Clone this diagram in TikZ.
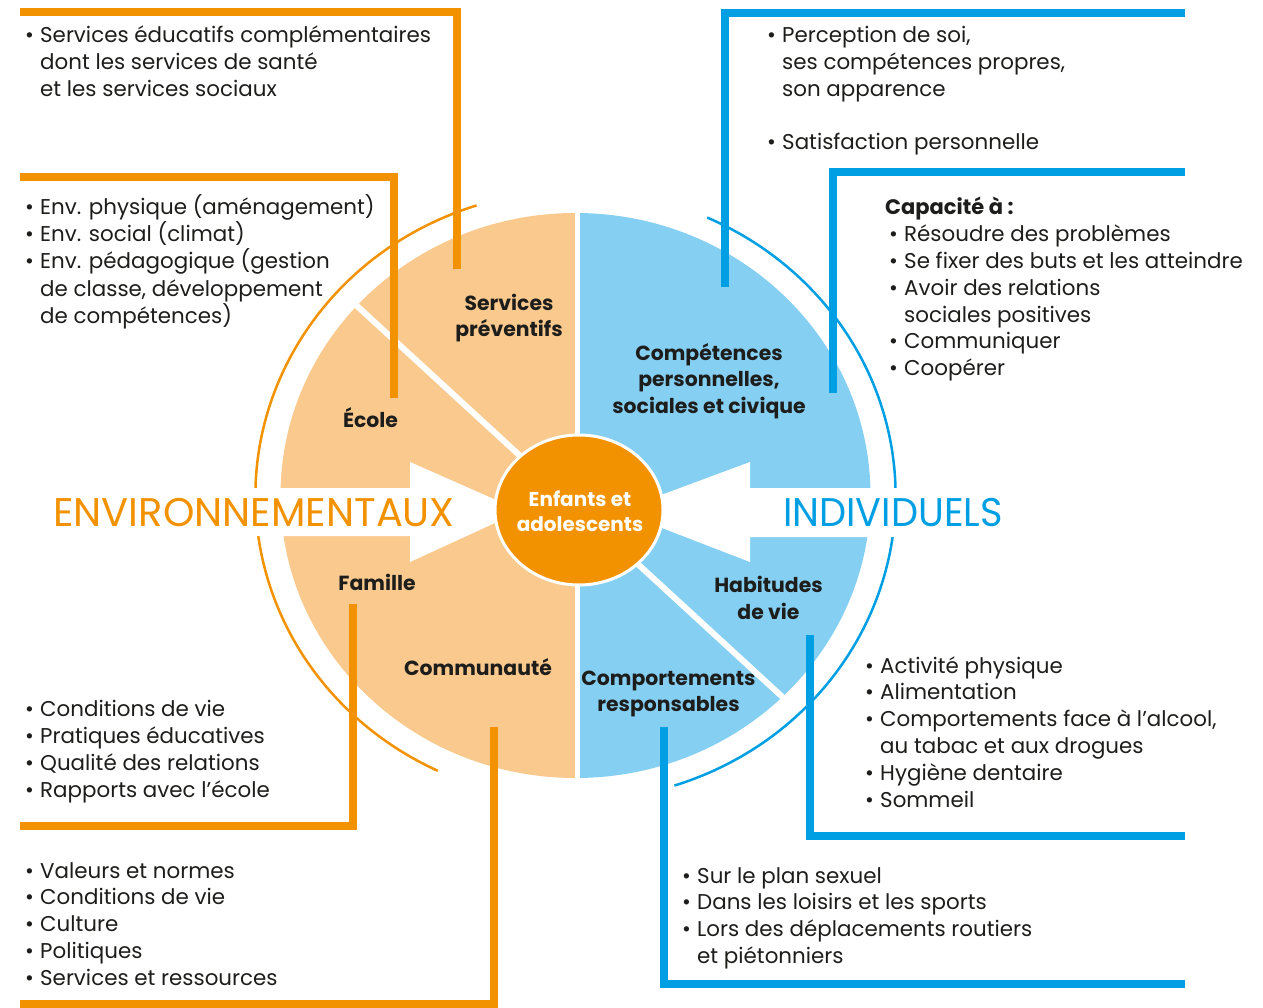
\documentclass[tikz,border=0pt]{standalone}
\usepackage{fontspec}
\setmainfont{Poppins}
\usepackage{graphicx}
\usetikzlibrary{calc}
\definecolor{orng}{HTML}{F39200}
\definecolor{lorng}{HTML}{FAC98E}
\definecolor{blu}{HTML}{009FE3}
\definecolor{lblu}{HTML}{85CFF3}
\definecolor{txt}{HTML}{1D1D1B}
\newcommand{\bul}{\makebox[15pt][l]{\textbullet}}
\newcommand{\nb}{\hspace*{15pt}}
\begin{document}
\begin{tikzpicture}[x=1pt,y=-1pt,
  body/.style={anchor=base west, inner sep=0pt, text=txt, font=\fontsize{21.4}{27}\selectfont},
  boldbody/.style={anchor=base west, inner sep=0pt, text=txt, font=\fontsize{21}{27}\selectfont\bfseries},
  lab/.style={anchor=base, inner sep=0pt, text=txt, font=\fontsize{20.4}{26}\selectfont\bfseries},
  kidlab/.style={anchor=base, inner sep=0pt, text=white, font=\fontsize{20}{26}\selectfont\bfseries},
  big/.style={inner sep=0pt, font=\fontsize{40}{40}\selectfont},
  bracketO/.style={draw=orng, line width=8pt, line join=miter},
  bracketB/.style={draw=blu, line width=8pt, line join=miter},
  thinarc/.style={line width=2.5pt}
]
\useasboundingbox (0,0) rectangle (1263,1008);
\coordinate (C) at (575.5,495.5);
% pie halves
\begin{scope}
  \clip (0,0) rectangle (577.5,1008);
  \fill[lorng] (C) ellipse[x radius=295pt, y radius=282.5pt];
\end{scope}
\begin{scope}
  \clip (577.5,0) rectangle (1263,1008);
  \fill[lblu] (C) ellipse[x radius=295pt, y radius=282.5pt];
\end{scope}
\draw[white, line width=5pt] (577.5,205) -- (577.5,785);
\draw[white, line width=6pt] (356.5,305.5) -- (783,697.5);
% outer arcs
\draw[orng, thinarc] (C) ++(108:320pt and 305pt) arc[start angle=108, end angle=244.5, x radius=320pt, y radius=305pt];
\draw[blu, thinarc] (C) ++(-72:320pt and 305pt) arc[start angle=-72, end angle=65.7, x radius=320pt, y radius=305pt];
% white arrows
\fill[white] (235,488) -- (410,488) -- (410,462) -- (521,511) -- (410,562) -- (410,536) -- (235,536) -- cycle;
\fill[white] (618,511) -- (750,462) -- (750,488) -- (915,488) -- (915,537) -- (750,537) -- (750,562) -- cycle;
% centre
\draw[white, line width=3pt, fill=orng] (579,510) ellipse[x radius=84pt, y radius=75pt];
\node[kidlab] (k1) at (580,506) {Enfants et};
\node[kidlab] (k2) at (580,531.7) {adolescents};
% big labels
\node[big, text=orng, anchor=base east] (env) at (455,526) {ENVIRONNEMENTAUX};
\node[big, text=blu, anchor=base west] (ind) at (783,526) {\scalebox{0.956}[1]{INDIVIDUELS}};
% sector labels
\node[lab] (sp1) at (509,310) {Services};
\node[lab] (sp2) at (509,336.7) {préventifs};
\node[lab] (eco) at (370.5,427.7) {École};
\node[lab] (fam) at (377,590.7) {Famille};
\node[lab] (com) at (478,675.7) {Communauté};
\node[lab] (cp1) at (709,360) {Compétences};
\node[lab] (cp2) at (709,386.5) {personnelles,};
\node[lab] (cp3) at (709,413) {sociales et civique};
\node[lab] (hv1) at (768.5,592.7) {Habitudes};
\node[lab] (hv2) at (768.5,619) {de vie};
\node[lab] (cr1) at (668.5,685) {Comportements};
\node[lab] (cr2) at (668.5,711.5) {responsables};
% brackets
\coordinate (oa1) at (20,12); \coordinate (oa2) at (457,12); \coordinate (oa3) at (457,269);
\draw[bracketO] (oa1) -- (oa2) -- (oa3);
\coordinate (ob1) at (20,177.5); \coordinate (ob2) at (394,177.5); \coordinate (ob3) at (394,398);
\draw[bracketO] (ob1) -- (ob2) -- (ob3);
\coordinate (oc1) at (353,604); \coordinate (oc2) at (353,825.5); \coordinate (oc3) at (20,825.5);
\draw[bracketO] (oc1) -- (oc2) -- (oc3);
\coordinate (od1) at (494,727); \coordinate (od2) at (494,1004); \coordinate (od3) at (20,1004);
\draw[bracketO] (od1) -- (od2) -- (od3);
\coordinate (ba1) at (724.5,287); \coordinate (ba2) at (724.5,13); \coordinate (ba3) at (1185,13);
\draw[bracketB] (ba1) -- (ba2) -- (ba3);
\coordinate (bb1) at (832.5,393); \coordinate (bb2) at (832.5,172); \coordinate (bb3) at (1185,172);
\draw[bracketB] (bb1) -- (bb2) -- (bb3);
\coordinate (bc1) at (810,635); \coordinate (bc2) at (810,836); \coordinate (bc3) at (1185,836);
\draw[bracketB] (bc1) -- (bc2) -- (bc3);
\coordinate (bd1) at (664,727); \coordinate (bd2) at (664,984); \coordinate (bd3) at (1185,984);
\draw[bracketB] (bd1) -- (bd2) -- (bd3);
% text blocks
\foreach \t [count=\i] in {{\bul Services éducatifs complémentaires},{\nb dont les services de santé},{\nb et les services sociaux}}
  \node[body] (ta\i) at (25,{42.7+27*(\i-1)}) {\t};
\foreach \t [count=\i] in {{\bul Env. physique (aménagement)},{\bul Env. social (climat)},{\bul Env. pédagogique (gestion},{\nb de classe, développement},{\nb de compétences)}}
  \node[body] (tb\i) at (25,{215+27*(\i-1)}) {\t};
\foreach \t [count=\i] in {{\bul Conditions de vie},{\bul Pratiques éducatives},{\bul Qualité des relations},{\bul Rapports avec l'école}}
  \node[body] (tc\i) at (25,{716.7+26.8*(\i-1)}) {\t};
\foreach \t [count=\i] in {{\bul Valeurs et normes},{\bul Conditions de vie},{\bul Culture},{\bul Politiques},{\bul Services et ressources}}
  \node[body] (td\i) at (25,{878+26.8*(\i-1)}) {\t};
\foreach \t [count=\i] in {{\bul Perception de soi,},{\nb ses compétences propres,},{\nb son apparence}}
  \node[body] (te\i) at (767,{42.7+27*(\i-1)}) {\t};
\node[body] (te4) at (767,150) {\bul Satisfaction personnelle};
\node[boldbody] (tf0) at (885,215) {Capacité à :};
\foreach \t [count=\i] in {{\bul Résoudre des problèmes},{\bul Se fixer des buts et les atteindre},{\bul Avoir des relations},{\nb sociales positives},{\bul Communiquer},{\bul Coopérer}}
  \node[body] (tf\i) at (889,{241.7+26.8*(\i-1)}) {\t};
\foreach \t [count=\i] in {{\bul Activité physique},{\bul Alimentation},{\bul Comportements face à l'alcool,},{\nb au tabac et aux drogues},{\bul Hygiène dentaire},{\bul Sommeil}}
  \node[body] (tg\i) at (865,{673+26.8*(\i-1)}) {\t};
\foreach \t [count=\i] in {{\bul Sur le plan sexuel},{\bul Dans les loisirs et les sports},{\bul Lors des déplacements routiers},{\nb et piétonniers}}
  \node[body] (th\i) at (682,{883+26.7*(\i-1)}) {\t};
\end{tikzpicture}
\end{document}
